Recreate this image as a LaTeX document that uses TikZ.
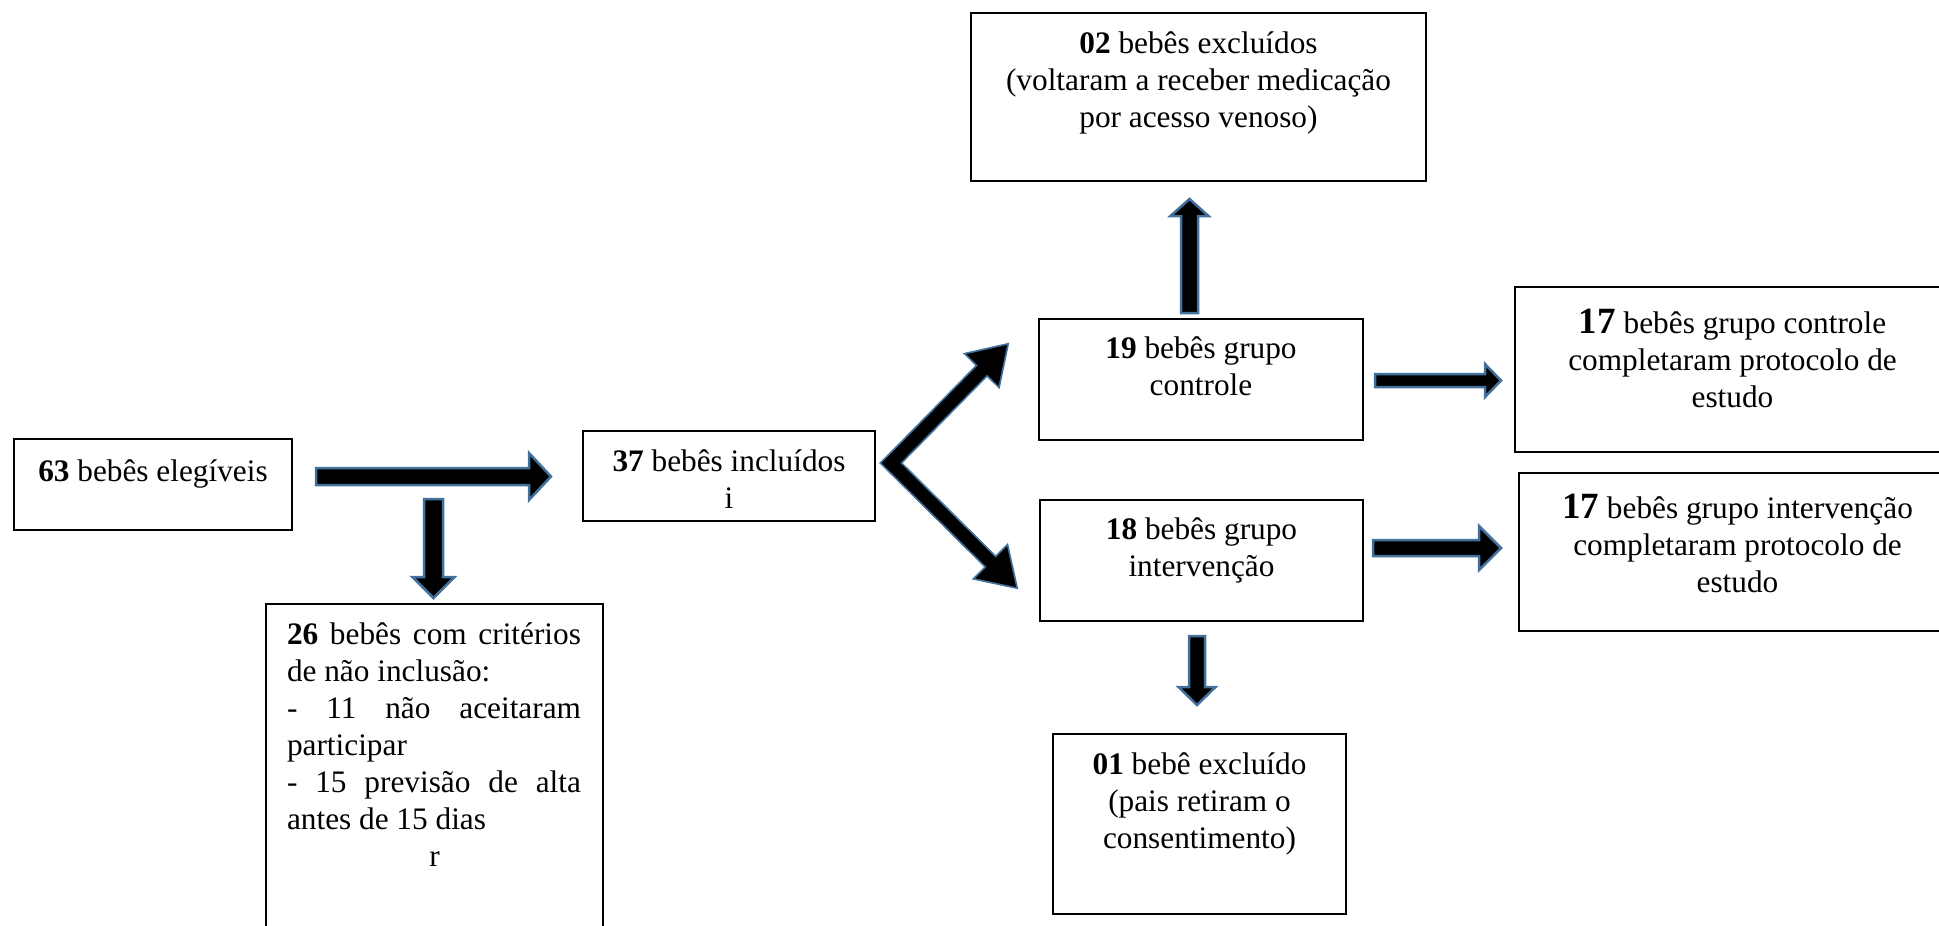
\documentclass[tikz,border=0pt]{standalone}
\usepackage{fontspec}
\setmainfont{Liberation Serif}
\usetikzlibrary{calc}
\definecolor{arrowblue}{RGB}{65,113,156}
\tikzset{
  box/.style={draw, line width=2pt, anchor=north west, inner sep=0pt,
    font=\fontsize{31.3pt}{37pt}\selectfont},
  arrowbody/.style={draw=arrowblue, line width=2.5pt, fill=black},
  arrowedge/.style={draw=arrowblue, line width=3.5pt},
  arrowfill/.style={fill=black}
}
\newcommand{\boxtext}[4][40pt]{\parbox[b][#3][t]{#2}{\centering\rule{0pt}{#1}#4}}
\newcommand{\bignum}[1]{{\fontsize{37pt}{37pt}\selectfont\textbf{#1}}}
\newcommand{\blockarrow}[6][arrowbody]{%
  \coordinate (hb) at ($(#3)!#6!(#2)$);
  \path[#1] ($(#2)!#4!90:(#3)$) -- ($(hb)!#4!90:(#3)$) -- ($(hb)!#5!90:(#3)$)
    -- (#3) -- ($(hb)!#5!-90:(#3)$) -- ($(hb)!#4!-90:(#3)$)
    -- ($(#2)!#4!-90:(#3)$) -- cycle;
}
\begin{document}
\begin{tikzpicture}[x=1pt,y=-1pt]
  \useasboundingbox (0,0) rectangle (1939,926);
  % boxes
  \node[box] (elig) at (13,438)
    {\boxtext[42pt]{278pt}{91pt}{\textbf{63} bebês elegíveis}};
  \node[box] (naoincl) at (265,603) {\parbox[b][360pt][t]{337pt}{%
    \leftskip=21pt \rightskip=22pt
    \rule{0pt}{40pt}\textbf{26} bebês com critérios\linebreak de não inclusão:\par
    - 11 não aceitaram\linebreak participar\par
    - 15 previsão de alta\linebreak antes de 15 dias\par
    {\centering r\par}}};
  \node[box] (incl) at (582,430)
    {\boxtext{292pt}{90pt}{\textbf{37} bebês incluídos\\ i}};
  \node[box] (ctrl) at (1038,318)
    {\boxtext[39pt]{324pt}{121pt}{\textbf{19} bebês grupo\\ controle}};
  \node[box] (interv) at (1039,499)
    {\boxtext[39pt]{323pt}{121pt}{\textbf{18} bebês grupo\\ intervenção}};
  \node[box] (excl02) at (970,12)
    {\boxtext{455pt}{168pt}{\textbf{02} bebês excluídos\\ (voltaram a receber medicação\\ por acesso venoso)}};
  \node[box] (ctrlok) at (1514,286)
    {\boxtext[46pt]{435pt}{165pt}{\bignum{17} bebês grupo controle\\ completaram protocolo de\\ estudo}};
  \node[box] (intervok) at (1518,472)
    {\boxtext[45pt]{437pt}{158pt}{\bignum{17} bebês grupo intervenção\\ completaram protocolo de\\ estudo}};
  \node[box] (excl01) at (1052,733)
    {\boxtext{293pt}{180pt}{\textbf{01} bebê excluído\\ (pais retiram o\\ consentimento)}};
  % arrow ends
  \coordinate (elig-r) at (316,476.5);
  \coordinate (incl-l) at (551,476.5);
  \coordinate (elig-d) at (433.5,499);
  \coordinate (naoincl-u) at (433.5,598);
  \coordinate (ctrl-u) at (1189.5,313);
  \coordinate (excl02-d) at (1189.5,199);
  \coordinate (interv-d) at (1197,636);
  \coordinate (excl01-u) at (1197,705);
  \coordinate (ctrl-r) at (1375,380.5);
  \coordinate (ctrlok-l) at (1501,380.5);
  \coordinate (interv-r) at (1373,548);
  \coordinate (intervok-l) at (1501,548);
  \coordinate (fork) at (891,463);
  \coordinate (ctrl-l) at (1007,345);
  \coordinate (interv-l) at (1016,587);
  \coordinate (fork-u) at ($(fork)!-6.5pt!(ctrl-l)$);
  \coordinate (fork-d) at ($(fork)!-6.5pt!(interv-l)$);
  % block arrows
  \blockarrow{elig-r}{incl-l}{8.5pt}{23.5pt}{22pt}
  \blockarrow{elig-d}{naoincl-u}{9.5pt}{21pt}{21pt}
  \blockarrow{ctrl-u}{excl02-d}{8.5pt}{19pt}{17pt}
  \blockarrow{interv-d}{excl01-u}{8pt}{18.5pt}{18pt}
  \blockarrow{ctrl-r}{ctrlok-l}{6.5pt}{16.5pt}{16pt}
  \blockarrow{interv-r}{intervok-l}{8pt}{22pt}{22pt}
  \blockarrow[arrowedge]{fork-u}{ctrl-l}{6.5pt}{22.5pt}{35pt}
  \blockarrow[arrowedge]{fork-d}{interv-l}{6.5pt}{22.5pt}{35pt}
  \blockarrow[arrowfill]{fork-u}{ctrl-l}{6.5pt}{22.5pt}{35pt}
  \blockarrow[arrowfill]{fork-d}{interv-l}{6.5pt}{22.5pt}{35pt}
\end{tikzpicture}
\end{document}
